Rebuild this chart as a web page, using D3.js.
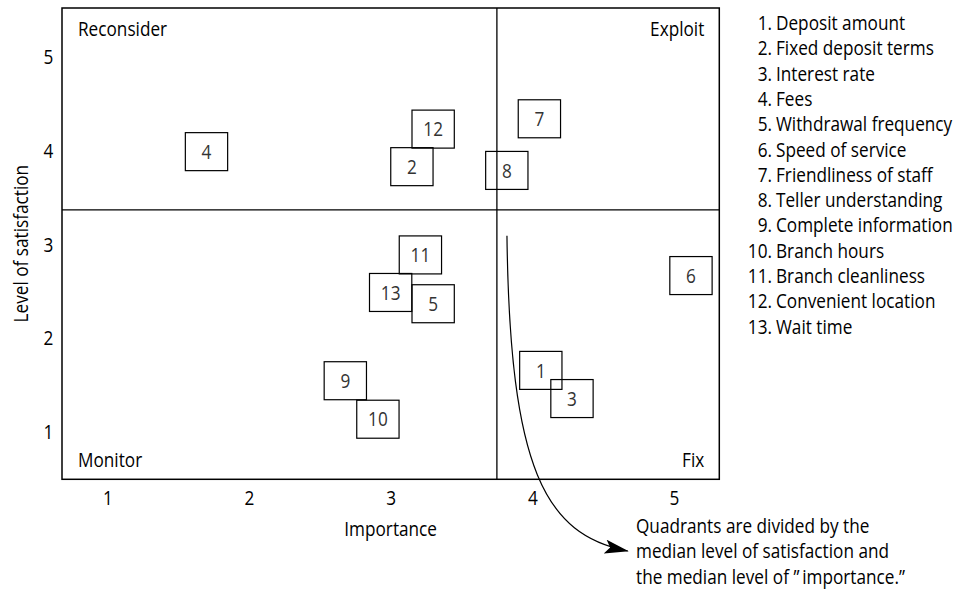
<!DOCTYPE html>
<html>
<head>
<meta charset="utf-8">
<script src="https://cdn.jsdelivr.net/npm/d3@7"></script>
<style>
  html, body { margin: 0; padding: 0; background: #fff; }
  svg { display: block; }
  text { font-family: "Open Sans", "Noto Sans", sans-serif; }
</style>
</head>
<body>
<svg id="chart" width="956" height="589"></svg>
<script>
// ---- data ----
const items = ["Deposit amount", "Fixed deposit terms", "Interest rate", "Fees",
  "Withdrawal frequency", "Speed of service", "Friendliness of staff",
  "Teller understanding", "Complete information", "Branch hours",
  "Branch cleanliness", "Convenient location", "Wait time"];
const importance   = [4.06, 3.15, 4.28, 1.70, 3.30, 5.12, 4.05, 3.82, 2.68, 2.91, 3.21, 3.30, 3.00];
const satisfaction = [1.66, 3.83, 1.36, 3.99, 2.37, 2.67, 4.34, 3.79, 1.55, 1.14, 2.89, 4.23, 2.49];
const xTicks = [1, 2, 3, 4, 5];
const yTicks = [1, 2, 3, 4, 5];
const medianImportance = 3.75;
const medianSatisfaction = 3.37;
const quadrantLabels = ["Reconsider", "Exploit", "Monitor", "Fix"];
const noteLines = ["Quadrants are divided by the",
  "median level of satisfaction and",
  "the median level of \u201D\u2009importance.\u201D"];
// arrow path control points in data units (importance, satisfaction)
const arrowPts = [[3.821, 3.093], [3.842, 0.603], [4.089, -0.088], [4.674, -0.264]];

// ---- layout ----
const svg = d3.select("#chart");
const pL = 62, pR = 719.3, pT = 8, pB = 479.3;
const x = d3.scaleLinear().domain([0.68, 5.32]).range([pL, pR]);
const y = d3.scaleLinear().domain([0.5, 5.52]).range([pB, pT]);
const boxW = 42.3, boxH = 38;
const fs = 20;      // font size (tall glyphs like the reference)
const sx = 0.86;    // horizontal condensing of text
const T = (px, py) => `translate(${px},${py}) scale(${sx},1)`;

// arrow marker
svg.append("defs").append("marker")
  .attr("id", "ah").attr("viewBox", "0 0 24 14")
  .attr("refX", 23).attr("refY", 7)
  .attr("markerWidth", 24).attr("markerHeight", 14)
  .attr("markerUnits", "userSpaceOnUse")
  .attr("orient", "auto")
  .append("path").attr("d", "M0,0 L24,7 L0,14 L5,7 Z").attr("fill", "#000");

// frame
svg.append("rect").attr("x", pL).attr("y", pT)
  .attr("width", pR - pL).attr("height", pB - pT)
  .attr("fill", "none").attr("stroke", "#000").attr("stroke-width", 1.5);

// median lines
svg.append("line").attr("x1", x(medianImportance)).attr("x2", x(medianImportance))
  .attr("y1", pT).attr("y2", pB).attr("stroke", "#000").attr("stroke-width", 1.3);
svg.append("line").attr("x1", pL).attr("x2", pR)
  .attr("y1", y(medianSatisfaction)).attr("y2", y(medianSatisfaction))
  .attr("stroke", "#000").attr("stroke-width", 1.3);

// axes
const gx = svg.append("g").attr("transform", `translate(0,${pB})`)
  .call(d3.axisBottom(x).tickValues(xTicks).tickSize(0).tickPadding(12).tickFormat(d3.format("d")));
gx.select(".domain").remove();
gx.selectAll("text").attr("font-size", fs).attr("fill", "#000")
  .style("font-family", '"Open Sans", sans-serif').attr("transform", `scale(${sx},1)`);
const gy = svg.append("g").attr("transform", `translate(${pL},0)`)
  .call(d3.axisLeft(y).tickValues(yTicks).tickSize(0).tickPadding(10).tickFormat(d3.format("d")));
gy.select(".domain").remove();
gy.selectAll("text").attr("font-size", fs).attr("fill", "#000")
  .style("font-family", '"Open Sans", sans-serif').attr("transform", `scale(${sx},1)`);

// axis titles
svg.append("text").attr("transform", T((pL + pR) / 2, 536))
  .attr("text-anchor", "middle").attr("font-size", fs).text("Importance");
svg.append("text").attr("transform", `translate(28,${(pT + pB) / 2}) rotate(-90) scale(${sx},1)`)
  .attr("text-anchor", "middle").attr("font-size", fs).text("Level of satisfaction");

// quadrant labels
const qpos = [
  {x: pL + 16, y: pT + 28, a: "start"},
  {x: pR - 15, y: pT + 28, a: "end"},
  {x: pL + 16, y: pB - 12, a: "start"},
  {x: pR - 15, y: pB - 12, a: "end"}
];
svg.selectAll("text.q").data(quadrantLabels).join("text").attr("class", "q")
  .attr("transform", (d, i) => T(qpos[i].x, qpos[i].y))
  .attr("text-anchor", (d, i) => qpos[i].a).attr("font-size", fs).text(d => d);

// boxes
const pts = items.map((name, i) => ({n: i + 1, imp: importance[i], sat: satisfaction[i]}));
const g = svg.selectAll("g.pt").data(pts).join("g").attr("class", "pt")
  .attr("transform", d => `translate(${x(d.imp)},${y(d.sat)})`);
g.append("rect").attr("x", -boxW / 2).attr("y", -boxH / 2)
  .attr("width", boxW).attr("height", boxH)
  .attr("fill", "none").attr("stroke", "#000").attr("stroke-width", 1.2);
g.append("text").attr("text-anchor", "middle").attr("dy", "0.36em")
  .attr("transform", `scale(${sx},1)`)
  .attr("font-size", fs).attr("fill", "#333").text(d => d.n);

// legend
const legX = 772, legY0 = 30, legDy = 25.3;
const lg = svg.selectAll("g.leg").data(items).join("g").attr("class", "leg")
  .attr("transform", (d, i) => `translate(${legX},${legY0 + i * legDy})`);
lg.append("text").attr("text-anchor", "end").attr("font-size", fs)
  .attr("transform", `scale(${sx},1)`).text((d, i) => (i + 1) + ".");
lg.append("text").attr("transform", T(4, 0)).attr("font-size", fs).text(d => d);

// arrow
const p = d3.path();
p.moveTo(x(arrowPts[0][0]), y(arrowPts[0][1]));
p.bezierCurveTo(x(arrowPts[1][0]), y(arrowPts[1][1]), x(arrowPts[2][0]), y(arrowPts[2][1]),
  x(arrowPts[3][0]), y(arrowPts[3][1]));
svg.append("path").attr("d", p.toString()).attr("fill", "none")
  .attr("stroke", "#000").attr("stroke-width", 1.2).attr("marker-end", "url(#ah)");

// note
svg.selectAll("text.note").data(noteLines).join("text").attr("class", "note")
  .attr("transform", (d, i) => T(636, 533 + i * 25.3))
  .attr("font-size", fs).text(d => d);
</script>
</body>
</html>
